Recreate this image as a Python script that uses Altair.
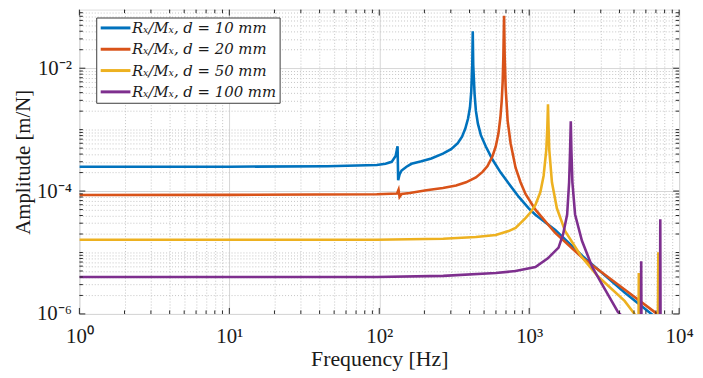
import altair as alt
import pandas as pd

# ---------------- data ----------------
SERIES = ["Rₓ/Mₓ, d = 10 mm", "Rₓ/Mₓ, d = 20 mm",
          "Rₓ/Mₓ, d = 50 mm", "Rₓ/Mₓ, d = 100 mm"]
COLORS = ["#0072BD", "#D95319", "#EDB120", "#7E2F8E"]

F_D10 = [1, 10, 45, 96.3, 110, 121, 128.6, 132.5, 133.7, 136.6, 140.9, 152, 164, 191,
         222.4, 265.8, 301.5, 333.9, 356.6, 374.9, 390.7, 402.7, 410.8, 417.1, 420.3,
         423.5, 432.5, 441.1, 454.8, 476.1, 513.7, 568.9, 645.5, 732.4, 853, 993, 1100,
         1492, 2284, 4327, 6531, 10000]
A_D10 = [2.49e-4, 2.49e-4, 2.54e-4, 2.65e-4, 2.78e-4, 2.99e-4, 3.73e-4, 5.37e-4, 1.50e-4,
         1.86e-4, 2.16e-4, 2.49e-4, 2.78e-4, 3.05e-4, 3.40e-4, 4.06e-4, 4.81e-4, 6.0e-4,
         7.66e-4, 1.04e-3, 1.50e-3, 2.29e-3, 4.21e-3, 1.12e-2, 4.0e-2, 1.12e-2, 3.73e-3,
         2.02e-3, 1.25e-3, 8.12e-4, 5.31e-4, 3.26e-4, 2.0e-4, 1.31e-4, 8.03e-5, 5.24e-5,
         4.11e-5, 2.32e-5, 8.65e-6, 2.23e-6, 1.0e-6, 4.1e-7]

F_D20 = [1, 10, 96.3, 131.4, 134.5, 136.6, 140.9, 159.8, 206, 265.8, 325.4, 378.8, 441.1,
         488.6, 527.3, 568.9, 598.4, 623.4, 642.7, 655.5, 665.5, 672.7, 679.7, 686.2,
         696.6, 718.2, 751.6, 811.3, 875.3, 944.6, 1100, 1492, 2284, 4327, 6840, 10000]
A_D20 = [8.65e-5, 8.68e-5, 8.87e-5, 9.12e-5, 1.05e-4, 8.04e-5, 8.96e-5, 9.29e-5, 1.03e-4,
         1.12e-4, 1.23e-4, 1.39e-4, 1.67e-4, 2.05e-4, 2.56e-4, 3.69e-4, 5.31e-4, 8.64e-4,
         1.59e-3, 2.92e-3, 6.06e-3, 1.61e-2, 7.11e-2, 1.61e-2, 4.82e-3, 1.39e-3, 6.0e-4,
         2.40e-4, 1.39e-4, 8.96e-5, 4.99e-5, 2.08e-5, 8.04e-6, 2.49e-6, 1.08e-6, 5.2e-7]

F_D50 = [1, 10, 96, 267, 441, 598.4, 729, 811.3, 944.6, 1019, 1100, 1187, 1248, 1300,
         1320.4, 1334.5, 1346.8, 1361, 1418, 1530, 1737, 2239, 2883, 4327, 5039, 5200,
         5360, 5383, 5400, 5600, 7200, 7262, 7300, 10000]
A_D50 = [1.61e-5, 1.61e-5, 1.61e-5, 1.67e-5, 1.79e-5, 1.93e-5, 2.23e-5, 2.52e-5, 3.63e-5,
         4.47e-5, 5.93e-5, 9.64e-5, 1.78e-4, 4.69e-4, 1.04e-3, 2.59e-3, 1.04e-3, 4.69e-4,
         1.39e-4, 5.24e-5, 2.23e-5, 8.42e-6, 4.06e-6, 1.63e-6, 1.0e-6, 2e-7, 6e-7, 4.64e-6,
         6e-7, 3e-7, 2e-7, 1.01e-5, 2e-7, 1.5e-7]

F_D100 = [1, 10, 96, 267, 598, 811, 1100, 1332, 1570, 1685, 1791, 1846, 1874, 1894, 1911,
          1941, 2023, 2248, 2636, 3209, 3905, 4327, 5000, 5560, 5585, 5610, 6500, 7450,
          7485, 7520, 10000]
A_D100 = [4.0e-6, 4.0e-6, 4.0e-6, 4.16e-6, 4.64e-6, 4.99e-6, 5.78e-6, 8.04e-6, 1.2e-5,
          2.0e-5, 4.16e-5, 1.39e-4, 4.69e-4, 1.37e-3, 4.69e-4, 1.39e-4, 4.16e-5, 1.55e-5,
          5.78e-6, 2.49e-6, 1.08e-6, 8.3e-7, 3e-7, 6e-7, 7.2e-6, 6e-7, 2e-7, 5e-7, 3.47e-5,
          5e-7, 1e-7]

# axis range (top trimmed a little because the page margin hides the reference's top strip)
X_DOMAIN = [1, 10000]
Y_DOMAIN = [1e-6, 0.09]

X_MAJOR = [1, 10, 100, 1000, 10000]
X_MINOR = [m * 10 ** k for k in range(0, 4) for m in range(2, 10)]
Y_MAJOR = [1e-6, 1e-4, 1e-2]
Y_MINOR = [v for v in [m * 10.0 ** k for k in range(-6, -1) for m in range(2, 10)]
           + [1e-5, 1e-3] if v < Y_DOMAIN[1] - 1e-9]

# ---------------- layout ----------------
W, H = 605, 307
FONT = "Liberation Serif"
LEGFONT = "DejaVu Serif"
TXT = "#1a1a1a"
FRAME = "#262626"
LMAJ, LMIN = 6, 3.5

rows = []
for name, fs, amps in zip(SERIES, [F_D10, F_D20, F_D50, F_D100],
                          [A_D10, A_D20, A_D50, A_D100]):
    for i, (f, a) in enumerate(zip(fs, amps)):
        rows.append({"series": name, "f": f, "A": a, "i": i})
df = pd.DataFrame(rows)

XMAJ = "abs(log(datum.value)/LN10 - round(log(datum.value)/LN10)) < 0.001"
YMAJ = ("abs(log(datum.value)/LN10 + 6) < 0.001 || abs(log(datum.value)/LN10 + 4) < 0.001"
        " || abs(log(datum.value)/LN10 + 2) < 0.001")

x_scale = alt.Scale(type="log", domain=X_DOMAIN, nice=False)
y_scale = alt.Scale(type="log", domain=Y_DOMAIN, nice=False)

x_axis = alt.Axis(
    values=sorted(X_MAJOR + X_MINOR),
    labelExpr="(" + XMAJ + ") ? '10' + ['⁰','¹','²','³','⁴'][round(log(datum.value)/LN10)] : ''",
    title="Frequency [Hz]", titleFont=FONT, titleFontSize=22, titleFontWeight="normal",
    titleColor=TXT, titlePadding=2,
    labelFont=FONT, labelFontSize=21, labelColor=TXT, labelPadding=12,
    labelOverlap=False, labelFlush=False, labelBound=False,
    ticks=False, tickSize=0, domain=False, grid=True,
    gridColor={"condition": {"test": XMAJ, "value": "#d6d6d6"}, "value": "#c4c4c4"},
    gridDash={"condition": {"test": XMAJ, "value": []}, "value": [1, 2]},
    gridWidth=1,
)
y_axis = alt.Axis(
    values=sorted(Y_MAJOR + Y_MINOR),
    labelExpr="(" + YMAJ + ") ? '10⁻' + ['⁶','⁵','⁴','³','²'][round(log(datum.value)/LN10) + 6] : ''",
    title="Amplitude [m/N]", titleFont=FONT, titleFontSize=21, titleFontWeight="normal",
    titleColor=TXT, titlePadding=3,
    labelFont=FONT, labelFontSize=21, labelColor=TXT, labelPadding=8,
    labelOverlap=False, labelFlush=False, labelBound=False,
    ticks=False, tickSize=0, domain=False, grid=True,
    gridColor={"condition": {"test": YMAJ, "value": "#d6d6d6"}, "value": "#c4c4c4"},
    gridDash={"condition": {"test": YMAJ, "value": []}, "value": [1, 2]},
    gridWidth=1,
)

lines = alt.Chart(df).mark_line(strokeWidth=2.6, clip=True).encode(
    x=alt.X("f:Q", scale=x_scale, axis=x_axis),
    y=alt.Y("A:Q", scale=y_scale, axis=y_axis),
    color=alt.Color(
        "series:N",
        scale=alt.Scale(domain=SERIES, range=COLORS),
        legend=alt.Legend(
            title=None, orient="none", legendX=17, legendY=8,
            symbolType="M-2.5,0H2.5", symbolSize=144, symbolStrokeWidth=3,
            symbolOffset=9, labelOffset=9,
            labelFont=LEGFONT, labelFontSize=15, labelFontStyle="italic",
            labelColor=TXT, rowPadding=5.5, padding=3,
            fillColor="white", strokeColor="#3c3c3c",
        ),
    ),
    order="i:Q",
)

xt_major = pd.DataFrame({"v": X_MAJOR})
xt_minor = pd.DataFrame({"v": X_MINOR})
yt_major = pd.DataFrame({"v": Y_MAJOR})
yt_minor = pd.DataFrame({"v": Y_MINOR})


def xticks(data, length):
    base = alt.Chart(data).mark_rule(color=FRAME, strokeWidth=1)
    xe = alt.X("v:Q", scale=x_scale, axis=x_axis)
    bottom = base.encode(x=xe, y=alt.value(H), y2=alt.value(H - length))
    top = base.encode(x=xe, y=alt.value(0), y2=alt.value(length))
    return [bottom, top]


def yticks(data, length):
    base = alt.Chart(data).mark_rule(color=FRAME, strokeWidth=1)
    ye = alt.Y("v:Q", scale=y_scale, axis=y_axis)
    left = base.encode(y=ye, x=alt.value(0), x2=alt.value(length))
    right = base.encode(y=ye, x=alt.value(W), x2=alt.value(W - length))
    return [left, right]


layers = ([lines] + xticks(xt_major, LMAJ) + xticks(xt_minor, LMIN)
          + yticks(yt_major, LMAJ) + yticks(yt_minor, LMIN))

chart = alt.layer(*layers).properties(
    width=W, height=H,
    padding={"left": 72, "top": 0, "right": 16, "bottom": 60},
    autosize=alt.AutoSizeParams(type="none"),
).configure_view(stroke=FRAME, strokeWidth=1).configure(background="white")

chart.save("out.html", embed_options={"renderer": "svg", "actions": False})
